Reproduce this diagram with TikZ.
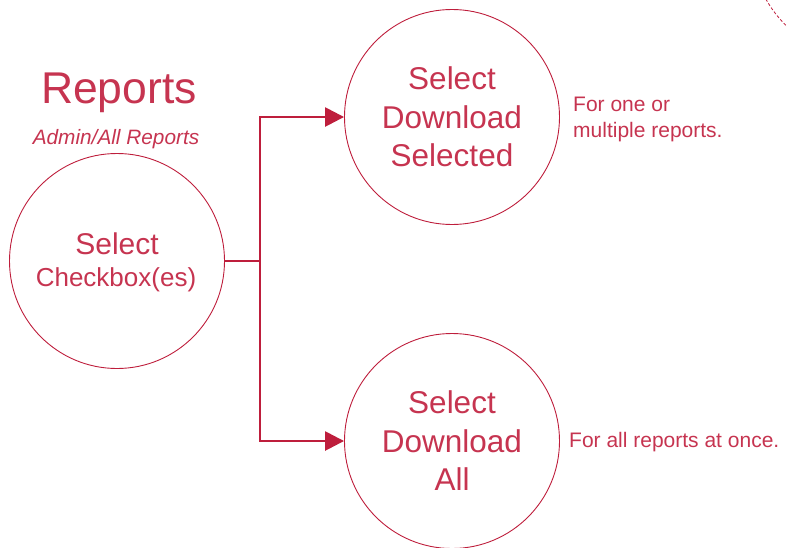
\documentclass[tikz,border=0pt]{standalone}
\usepackage{fontspec}
\setmainfont{Liberation Sans}
\usetikzlibrary{arrows.meta}
\definecolor{crimson}{RGB}{190,30,60}
\definecolor{crimsontext}{RGB}{198,52,80}
\tikzset{
  stage/.style={circle, draw=crimson, line width=0.9pt, minimum size=215pt, inner sep=0pt,
    text=crimsontext, align=center, font=\fontsize{31.5}{38.5}\selectfont},
  link/.style={draw=crimson, line width=2.6pt},
  flow/.style={link, -{Triangle[length=19pt,width=19pt]}},
  note/.style={text=crimsontext, align=left, anchor=west, inner sep=0pt,
    font=\fontsize{21}{26}\selectfont}
}
\begin{document}
\begin{tikzpicture}[x=1pt,y=-1pt]
  \useasboundingbox (0,0) rectangle (787,547);
  % partial dashed ring at the top right corner
  \begin{scope}
    \clip (0,0) rectangle (787,547);
    \draw[crimson, line width=0.8pt, dash pattern=on 3pt off 2pt] (868,-58) circle[radius=117];
  \end{scope}
  % title
  \node[text=crimsontext, font=\fontsize{44.5}{50}\selectfont] (title) at (119,93) {Reports};
  \node[text=crimsontext, font=\fontsize{20.8}{24}\itshape] (path) at (116,139) {Admin/All Reports};
  % stages
  \node[stage] (check) at (117,261) {};
  \node[text=crimsontext, font=\fontsize{30}{34}\selectfont] (checkA) at (117,244) {Select};
  \node[text=crimsontext, font=\fontsize{26}{30}\selectfont] (checkB) at (116,280) {Checkbox(es)};
  \node[stage] (sel) at (452,117) {Select\\Download\\Selected};
  \node[stage] (all) at (452,441) {Select\\Download\\All};
  % connectors
  \coordinate (split) at (260,261);
  \draw[link] (check.east) -- (split);
  \draw[flow] (split) |- (sel.west);
  \draw[flow] (split) |- (all.west);
  % notes
  \node[note] (noteA) at (573,119) {For one or\\multiple reports.};
  \node[note] (noteB) at (569,442) {For all reports at once.};
\end{tikzpicture}
\end{document}
